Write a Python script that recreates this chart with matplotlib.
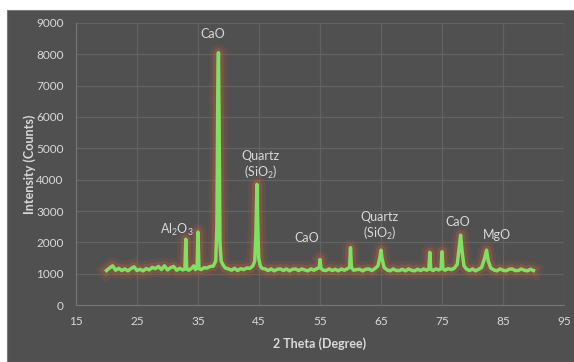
import matplotlib.pyplot as plt
import matplotlib.patheffects as pe
from matplotlib.patches import Rectangle

plt.rcParams['font.family'] = ['Lato', 'DejaVu Sans']
plt.rcParams['mathtext.default'] = 'regular'

# XRD scan
two_theta = [20.0, 20.5, 21.0, 21.5, 22.0, 22.5, 23.0, 23.5, 24.0, 24.5, 25.0, 25.5, 26.0, 26.5,
             27.0, 27.5, 28.0, 28.5, 29.0, 29.5, 30.0, 30.5, 31.0, 31.5, 32.0, 32.5,
             32.85, 33.0, 33.15, 33.5, 34.0, 34.3, 34.6, 34.85, 35.0, 35.15, 35.5, 36.0, 36.5,
             37.0, 37.5, 37.9, 38.1, 38.25, 38.35, 38.45, 38.6, 38.8, 39.2, 39.5, 40.0,
             40.5, 41.0, 41.5, 42.0, 42.5, 43.0, 43.5, 44.0, 44.3, 44.5, 44.65, 44.8, 44.95,
             45.2, 45.5, 46.0, 46.5, 47.0, 47.5, 48.0, 48.5, 49.0, 49.5, 50.0, 50.5, 51.0,
             51.5, 52.0, 52.5, 53.0, 53.5, 54.0, 54.5, 54.9, 55.0, 55.15, 55.5, 56.0, 56.5,
             57.0, 57.5, 58.0, 58.5, 59.0, 59.5, 59.85, 60.0, 60.15, 60.5, 61.0, 61.5, 62.0,
             62.5, 63.0, 63.5, 64.0, 64.5, 64.85, 65.0, 65.15, 65.5, 66.0, 66.5, 67.0, 67.5,
             68.0, 68.5, 69.0, 69.5, 70.0, 70.5, 71.0, 71.5, 72.0, 72.5, 72.85, 73.0, 73.15,
             73.5, 74.0, 74.5, 74.85, 75.0, 75.15, 75.5, 76.0, 76.5, 77.0, 77.5, 77.8, 78.05,
             78.3, 78.6, 79.0, 79.5, 80.0, 80.5, 81.0, 81.5, 82.0, 82.3, 82.6, 83.0, 83.5,
             84.0, 84.5, 85.0, 85.5, 86.0, 86.5, 87.0, 87.5, 88.0, 88.5, 89.0, 89.5, 90.0]
counts = [1100, 1180, 1250, 1110, 1170, 1100, 1150, 1090, 1160, 1220, 1100, 1140, 1090, 1160,
          1120, 1200, 1160, 1230, 1130, 1250, 1120, 1190, 1230, 1110, 1170, 1120,
          1150, 2100, 1150, 1110, 1180, 1250, 1130, 1180, 2330, 1170, 1130, 1190, 1180,
          1230, 1240, 1400, 2500, 7000, 8050, 6000, 2000, 1400, 1250, 1180, 1150,
          1110, 1170, 1100, 1160, 1130, 1180, 1170, 1250, 1400, 2300, 3850, 2500, 1500,
          1250, 1170, 1150, 1100, 1150, 1090, 1140, 1150, 1100, 1150, 1090, 1140, 1150,
          1100, 1150, 1120, 1090, 1150, 1110, 1160, 1200, 1450, 1180, 1110, 1100, 1150,
          1100, 1140, 1090, 1150, 1110, 1160, 1200, 1830, 1200, 1110, 1130, 1140, 1090,
          1140, 1150, 1100, 1160, 1250, 1550, 1750, 1500, 1200, 1120, 1090, 1150, 1100,
          1100, 1140, 1090, 1150, 1110, 1090, 1140, 1100, 1150, 1110, 1150, 1680, 1150,
          1100, 1150, 1120, 1160, 1700, 1160, 1110, 1160, 1130, 1170, 1300, 1800, 2230,
          1700, 1250, 1150, 1100, 1150, 1090, 1140, 1200, 1500, 1750, 1400, 1180, 1120,
          1090, 1150, 1110, 1090, 1140, 1150, 1100, 1100, 1150, 1110, 1090, 1140, 1100]

peak_labels = ['CaO', r'Al$_2$O$_3$', 'Quartz\n(SiO$_2$)', 'CaO', 'Quartz\n(SiO$_2$)', 'CaO', 'MgO']
label_x = [37.4, 31.6, 45.3, 52.8, 64.8, 77.5, 84.0]
label_y = [8450, 2150, 3950, 1950, 2000, 2450, 2050]

bg = '#505050'
txt = '#d9d9d9'

fig = plt.figure(figsize=(5.74, 3.62), dpi=100, facecolor='white')
fig.patches.append(Rectangle((7 / 574, 0), 1, 352 / 362, transform=fig.transFigure,
                             facecolor=bg, edgecolor='#7a7a7a', linewidth=0.8, zorder=-1))
ax = fig.add_axes([76 / 574, 57 / 362, 488 / 574, 282 / 362])
ax.set_facecolor(bg)

ax.plot(two_theta, counts, color='#80e060', linewidth=2.5, solid_joinstyle='round',
        path_effects=[pe.Stroke(linewidth=12, foreground='#b4583a', alpha=0.16),
                      pe.Stroke(linewidth=7, foreground='#c0643c', alpha=0.3),
                      pe.Normal()])

for s, x, y in zip(peak_labels, label_x, label_y):
    ax.text(x, y, s, color=txt, fontsize=9, ha='center', va='bottom', linespacing=1.2)

ax.set_xlim(15, 95)
ax.set_ylim(0, 9000)
ax.set_xticks(range(15, 96, 10))
ax.set_yticks(range(0, 9001, 1000))
ax.grid(color='#626262', linewidth=0.9)
ax.set_axisbelow(True)
ax.tick_params(length=0, colors=txt, labelsize=8.5)
ax.tick_params(axis='x', pad=8)
ax.tick_params(axis='y', pad=9)
for side in ['top', 'right']:
    ax.spines[side].set_visible(False)
for side in ['left', 'bottom']:
    ax.spines[side].set_color('#767676')

ax.set_xlabel('2 Theta (Degree)', color=txt, fontsize=9, fontweight='bold', labelpad=7)
ax.set_ylabel('Intensity (Counts)', color=txt, fontsize=9, fontweight='bold')
ax.yaxis.set_label_coords(-0.082, 0.5)

fig.savefig('out.png', dpi=100, facecolor='white')
